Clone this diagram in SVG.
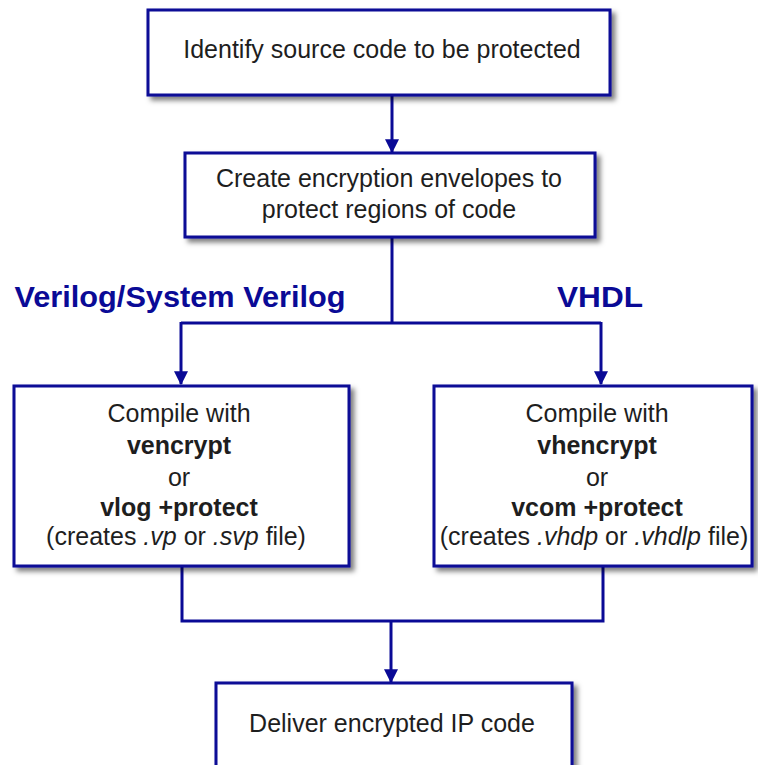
<svg xmlns="http://www.w3.org/2000/svg" width="758" height="765" viewBox="0 0 758 765">
  <defs>
    <filter id="shadow" x="-10%" y="-10%" width="130%" height="140%">
      <feDropShadow dx="4" dy="4" stdDeviation="2.5" flood-color="#000" flood-opacity="0.5"/>
    </filter>
    <marker id="arrow" viewBox="0 0 12 12" refX="11" refY="6" markerWidth="14" markerHeight="14" markerUnits="userSpaceOnUse" orient="auto">
      <path d="M0,0 L12,6 L0,12 Z" fill="#0a0a96"/>
    </marker>
  </defs>
  <style>
    .box { fill: #ffffff; stroke: #0a0a96; stroke-width: 3; filter: url(#shadow); }
    .wire { fill: none; stroke: #0a0a96; stroke-width: 3; }
    .txt { font-family: "Liberation Sans", Arial, sans-serif; font-size: 25px; fill: #1e1e1e; text-anchor: middle; }
    .b { font-weight: bold; }
    .i { font-style: italic; }
    .lang { font-family: "Liberation Sans", Arial, sans-serif; font-size: 29px; font-weight: bold; fill: #0a0a96; text-anchor: middle; }
  </style>

  <rect width="758" height="765" fill="#ffffff"/>

  <g id="connectors">
    <line class="wire" x1="392" y1="95" x2="392" y2="152" marker-end="url(#arrow)"/>
    <polyline class="wire" points="392,237 392,323"/>
    <polyline class="wire" points="181,323 601,323"/>
    <line class="wire" x1="181" y1="322" x2="181" y2="384" marker-end="url(#arrow)"/>
    <line class="wire" x1="601" y1="322" x2="601" y2="384" marker-end="url(#arrow)"/>
    <polyline class="wire" points="182,566 182,621 603,621 603,566"/>
    <line class="wire" x1="391" y1="621" x2="391" y2="682" marker-end="url(#arrow)"/>
  </g>

  <g id="identify">
    <rect class="box" x="148" y="10" width="462" height="85"/>
    <text class="txt" x="382" y="58">Identify source code to be protected</text>
  </g>

  <g id="envelopes">
    <rect class="box" x="185" y="153" width="410" height="84"/>
    <text class="txt" x="389" y="187">Create encryption envelopes to</text>
    <text class="txt" x="389" y="218">protect regions of code</text>
  </g>

  <g id="label-verilog">
    <text class="lang" x="180" y="307" textLength="331" lengthAdjust="spacingAndGlyphs">Verilog/System Verilog</text>
  </g>
  <g id="label-vhdl">
    <text class="lang" x="600" y="307" textLength="86" lengthAdjust="spacingAndGlyphs">VHDL</text>
  </g>

  <g id="compile-verilog">
    <rect class="box" x="14" y="386" width="335" height="180"/>
    <text class="txt" x="179" y="422">Compile with</text>
    <text class="txt b" x="179" y="454">vencrypt</text>
    <text class="txt" x="179" y="486">or</text>
    <text class="txt b" x="179" y="516">vlog +protect</text>
    <text class="txt" x="176" y="545">(creates <tspan class="i">.vp</tspan> or <tspan class="i">.svp</tspan> file)</text>
  </g>

  <g id="compile-vhdl">
    <rect class="box" x="434" y="386" width="318" height="180"/>
    <text class="txt" x="597" y="422">Compile with</text>
    <text class="txt b" x="597" y="454">vhencrypt</text>
    <text class="txt" x="597" y="486">or</text>
    <text class="txt b" x="597" y="516">vcom +protect</text>
    <text class="txt" x="594" y="545">(creates <tspan class="i">.vhdp</tspan> or <tspan class="i">.vhdlp</tspan> file)</text>
  </g>

  <g id="deliver">
    <rect class="box" x="216" y="683" width="356" height="100"/>
    <text class="txt" x="392" y="732">Deliver encrypted IP code</text>
  </g>
</svg>
